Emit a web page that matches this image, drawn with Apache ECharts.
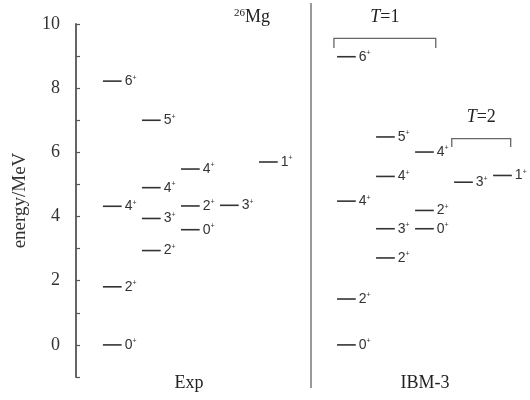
<!DOCTYPE html>
<html>
<head>
<meta charset="utf-8">
<script src="https://cdn.jsdelivr.net/npm/echarts@6/dist/echarts.min.js"></script>
<style>
  html, body { margin: 0; padding: 0; background: #fff; }
  #chart { width: 530px; height: 400px; }
</style>
</head>
<body>
<div id="chart"></div>
<script>
// Exp levels (columns 1-5)
const expColumn = [1, 1, 1, 1, 2, 2, 2, 2, 3, 3, 3, 4, 5];
const expEnergy = [0, 1.81, 4.32, 8.22, 2.94, 3.94, 4.90, 7.00, 3.59, 4.33, 5.48, 4.35, 5.70];
const expSpin = ['0', '2', '4', '6', '2', '3', '4', '5', '0', '2', '4', '3', '1'];

// IBM-3 levels (columns 7-11)
const ibmColumn = [7, 7, 7, 7, 8, 8, 8, 8, 9, 9, 9, 10, 11];
const ibmEnergy = [0, 1.43, 4.48, 8.98, 2.71, 3.62, 5.25, 6.48, 3.62, 4.19, 6.01, 5.07, 5.28];
const ibmSpin = ['0', '2', '4', '6', '2', '3', '4', '5', '0', '2', '4', '3', '1'];

// isospin brackets
const bracketFrom = [6.68, 9.70];
const bracketTo = [9.29, 11.21];
const bracketTop = [9.55, 6.43];
const bracketBottom = [9.25, 6.17];
const bracketT = ['1', '2'];

const yTicks = [0, 2, 4, 6, 8, 10];

const serif = '"Liberation Serif", "Times New Roman", serif';
const sans = '"Liberation Sans", Arial, sans-serif';

function levelData(cols, energies, spins) {
    return cols.map((c, i) => [c, energies[i], spins[i]]);
}

function renderLevel(params, api) {
    const col = api.value(0);
    const e = api.value(1);
    const p1 = api.coord([col - 0.24, e]);
    const p2 = api.coord([col + 0.24, e]);
    return {
        type: 'group',
        children: [{
            type: 'line',
            shape: { x1: p1[0], y1: p1[1], x2: p2[0], y2: p2[1] },
            style: { stroke: '#333', lineWidth: 1.6 }
        }, {
            type: 'text',
            x: p2[0] + 3,
            y: p2[1],
            style: {
                text: '{n|' + api.value(2) + '}{s|+}',
                align: 'left',
                verticalAlign: 'middle',
                rich: {
                    n: { fontFamily: sans, fontSize: 14, lineHeight: 14, fill: '#333' },
                    s: { fontFamily: sans, fontSize: 7, lineHeight: 14, verticalAlign: 'top', fill: '#333' }
                }
            }
        }]
    };
}

function renderBracket(params, api) {
    const x1 = api.value(0), x2 = api.value(1), top = api.value(2), bot = api.value(3);
    const a = api.coord([x1, bot]);
    const b = api.coord([x1, top]);
    const c = api.coord([x2, top]);
    const d = api.coord([x2, bot]);
    return {
        type: 'group',
        children: [{
            type: 'polyline',
            shape: { points: [a, b, c, d] },
            style: { stroke: '#666', lineWidth: 1.3, fill: null }
        }, {
            type: 'text',
            x: (b[0] + c[0]) / 2,
            y: b[1] - 21,
            style: {
                text: '{i|T}{n|=' + api.value(4) + '}',
                align: 'center',
                verticalAlign: 'middle',
                rich: {
                    i: { fontFamily: serif, fontSize: 18, fontStyle: 'italic', fill: '#222' },
                    n: { fontFamily: serif, fontSize: 18, fill: '#222' }
                }
            }
        }]
    };
}

const chart = echarts.init(document.getElementById('chart'));
chart.setOption({
    animation: false,
    backgroundColor: '#fff',
    grid: { left: 76, right: 8, top: 24, bottom: 23, outerBoundsMode: 'none' },
    xAxis: {
        type: 'value',
        min: 0.07,
        max: 11.5,
        show: false
    },
    yAxis: {
        type: 'value',
        min: -1,
        max: 10,
        interval: 1,
        name: 'energy/MeV',
        nameLocation: 'middle',
        nameGap: 46,
        nameRotate: 90,
        nameTextStyle: { fontFamily: serif, fontSize: 19, color: '#333' },
        axisLine: { show: true, lineStyle: { color: '#555', width: 1.8 } },
        axisTick: { show: true, inside: true, length: 4, lineStyle: { color: '#555', width: 1.2 } },
        axisLabel: {
            margin: 16,
            fontFamily: serif,
            fontSize: 18,
            color: '#333',
            formatter: v => yTicks.indexOf(v) >= 0 ? String(v) : ''
        },
        splitLine: { show: false }
    },
    series: [{
        type: 'custom',
        name: 'Exp',
        data: levelData(expColumn, expEnergy, expSpin),
        renderItem: renderLevel,
        clip: false
    }, {
        type: 'custom',
        name: 'IBM-3',
        data: levelData(ibmColumn, ibmEnergy, ibmSpin),
        renderItem: renderLevel,
        clip: false
    }, {
        type: 'custom',
        name: 'isospin',
        data: bracketFrom.map((f, i) => [f, bracketTo[i], bracketTop[i], bracketBottom[i], bracketT[i]]),
        renderItem: renderBracket,
        clip: false
    }],
    graphic: [{
        type: 'line',
        shape: { x1: 311, y1: 3, x2: 311, y2: 388 },
        style: { stroke: '#999', lineWidth: 2 }
    }, {
        type: 'text',
        x: 189,
        y: 383,
        style: { text: 'Exp', font: '18px ' + serif, fill: '#222', align: 'center', verticalAlign: 'middle' }
    }, {
        type: 'text',
        x: 425,
        y: 383,
        style: { text: 'IBM-3', font: '18px ' + serif, fill: '#222', align: 'center', verticalAlign: 'middle' }
    }, {
        type: 'text',
        x: 234,
        y: 17,
        style: {
            text: '{s|26}{m|Mg}',
            align: 'left',
            verticalAlign: 'middle',
            rich: {
                s: { fontFamily: serif, fontSize: 11, lineHeight: 18, verticalAlign: 'top', fill: '#222' },
                m: { fontFamily: serif, fontSize: 18, lineHeight: 18, fill: '#222' }
            }
        }
    }]
});
</script>
</body>
</html>
